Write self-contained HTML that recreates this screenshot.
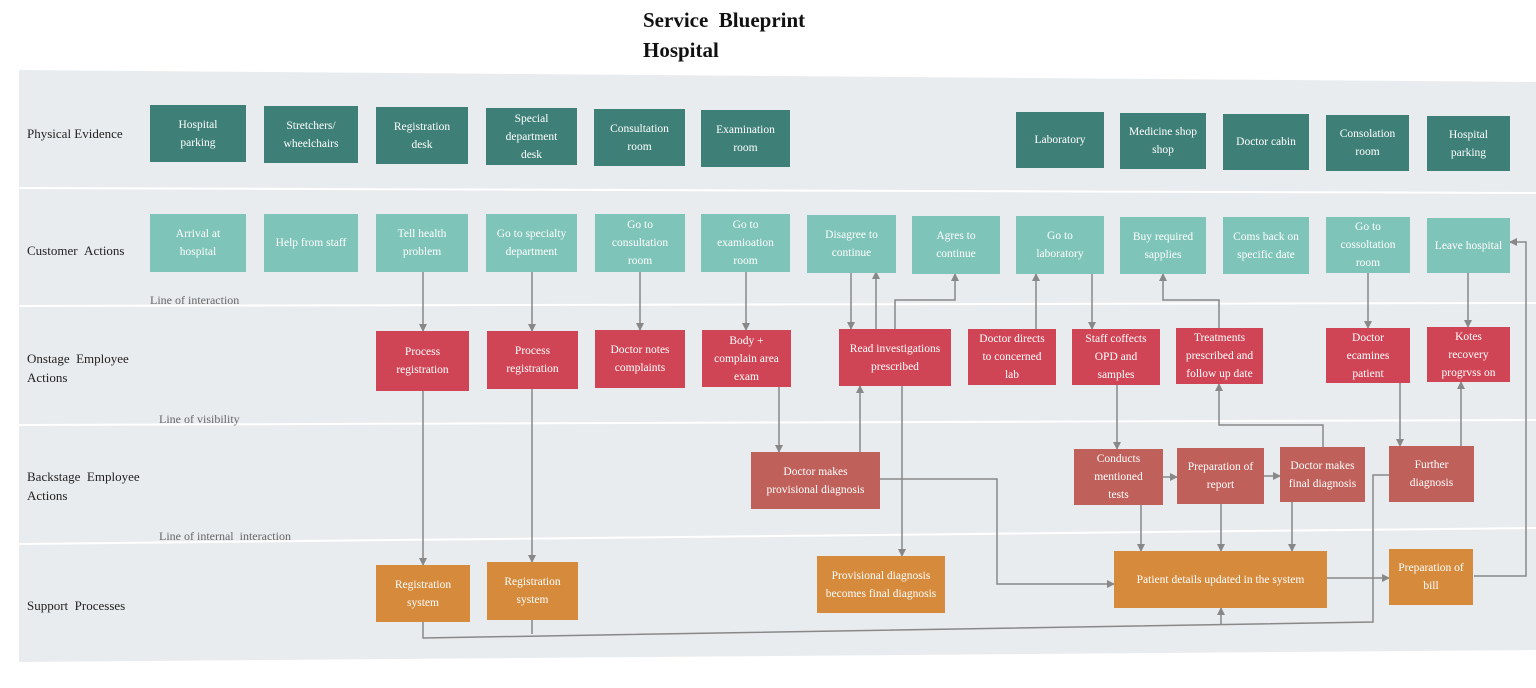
<!DOCTYPE html>
<html><head><meta charset="utf-8"><style>
body{margin:0;width:1536px;height:688px;background:#fff;position:relative;overflow:hidden;font-family:"Liberation Serif",serif}
.t{position:absolute;font-weight:bold;font-size:21px;color:#111;left:643px}
.lab{position:absolute;font-size:13px;color:#222;left:27px;line-height:19px}
.ln{position:absolute;font-size:12px;color:#666}
.b{position:absolute;display:flex;align-items:center;justify-content:center;text-align:center;color:#fff;font-size:11.5px;line-height:18px;box-sizing:border-box;padding:2px}
.pe{background:#3e8077}.ca{background:#7ec4b8}.on{background:#d04555}.bs{background:#c0605a}.sp{background:#d68a3c}
svg{position:absolute;left:0;top:0}
</style></head><body>
<svg width="1536" height="688">
<defs><marker id="a" markerWidth="8" markerHeight="8" refX="7" refY="4" orient="auto" markerUnits="userSpaceOnUse"><path d="M0,0L8,4L0,8z" fill="#888"/></marker></defs>
<polygon points="19,70 1536,82 1536,650 19,662" fill="#e9ecef"/>
<g stroke="#fff" stroke-width="2">
<line x1="19" y1="188" x2="1536" y2="193"/><line x1="19" y1="306" x2="1536" y2="303"/>
<line x1="19" y1="425" x2="1536" y2="420"/><line x1="19" y1="544" x2="1536" y2="528"/></g>
<g stroke="#888" stroke-width="1.5" fill="none" marker-end="url(#a)">
<path d="M423,272V331"/><path d="M532,272V331"/><path d="M640,272V330"/><path d="M746,272V330"/>
<path d="M851,272V329"/><path d="M876,329V272"/><path d="M895,329V300H955V274"/>
<path d="M1036,329V274"/><path d="M1092,274V329"/><path d="M1219,328V300H1163V274"/>
<path d="M1368,273V328"/><path d="M1468,273V327"/>
<path d="M423,391V565"/><path d="M532,389V562"/><path d="M779,387V452"/>
<path d="M860,452V386"/><path d="M902,386V556"/>
<path d="M1117,385V449"/><path d="M1163,477H1177"/><path d="M1264,476H1280"/>
<path d="M1323,447V425H1219V384"/><path d="M1400,383V446"/><path d="M1461,446V382"/>
<path d="M880,479H997V584H1114"/>
<path d="M1141,505V551"/><path d="M1221,504V551"/><path d="M1292,502V551"/>
<path d="M1327,578H1389"/><path d="M1474,576H1526V242H1510"/>
<path d="M423,622V638L1373,622V475H1389" marker-end="none"/>
<path d="M532,620V634"  marker-end="none"/>
<path d="M1221,624V608"/>
</g></svg>
<div class="t" style="top:8px">Service &nbsp;Blueprint</div>
<div class="t" style="top:38px">Hospital</div>
<div class="lab" style="top:124px">Physical Evidence</div>
<div class="lab" style="top:241px">Customer &nbsp;Actions</div>
<div class="lab" style="top:349px">Onstage &nbsp;Employee<br>Actions</div>
<div class="lab" style="top:467px">Backstage &nbsp;Employee<br>Actions</div>
<div class="lab" style="top:596px">Support &nbsp;Processes</div>
<div class="ln" style="left:150px;top:293px">Line of interaction</div>
<div class="ln" style="left:159px;top:412px">Line of visibility</div>
<div class="ln" style="left:159px;top:529px">Line of internal &nbsp;interaction</div>

<div class="b pe" style="left:150px;top:105px;width:96px;height:57px">Hospital<br>parking</div>
<div class="b pe" style="left:264px;top:106px;width:94px;height:57px">Stretchers/<br>wheelchairs</div>
<div class="b pe" style="left:376px;top:107px;width:92px;height:57px">Registration<br>desk</div>
<div class="b pe" style="left:486px;top:108px;width:91px;height:57px">Special<br>department<br>desk</div>
<div class="b pe" style="left:594px;top:109px;width:91px;height:57px">Consultation<br>room</div>
<div class="b pe" style="left:701px;top:110px;width:89px;height:57px">Examination<br>room</div>
<div class="b pe" style="left:1016px;top:112px;width:88px;height:56px">Laboratory</div>
<div class="b pe" style="left:1120px;top:113px;width:86px;height:56px">Medicine shop<br>shop</div>
<div class="b pe" style="left:1223px;top:114px;width:86px;height:56px">Doctor cabin</div>
<div class="b pe" style="left:1326px;top:115px;width:83px;height:56px">Consolation<br>room</div>
<div class="b pe" style="left:1427px;top:116px;width:83px;height:55px">Hospital<br>parking</div>

<div class="b ca" style="left:150px;top:214px;width:96px;height:58px">Arrival at<br>hospital</div>
<div class="b ca" style="left:264px;top:214px;width:94px;height:58px">Help from staff</div>
<div class="b ca" style="left:376px;top:214px;width:92px;height:58px">Tell health<br>problem</div>
<div class="b ca" style="left:486px;top:214px;width:91px;height:58px">Go to specialty<br>department</div>
<div class="b ca" style="left:595px;top:214px;width:90px;height:58px">Go to<br>consultation<br>room</div>
<div class="b ca" style="left:701px;top:214px;width:89px;height:58px">Go to<br>examioation<br>room</div>
<div class="b ca" style="left:807px;top:215px;width:89px;height:58px">Disagree to<br>continue</div>
<div class="b ca" style="left:912px;top:216px;width:88px;height:58px">Agres to<br>continue</div>
<div class="b ca" style="left:1016px;top:216px;width:88px;height:58px">Go to<br>laboratory</div>
<div class="b ca" style="left:1120px;top:217px;width:86px;height:57px">Buy required<br>sapplies</div>
<div class="b ca" style="left:1223px;top:217px;width:86px;height:57px">Coms back on<br>specific date</div>
<div class="b ca" style="left:1326px;top:217px;width:84px;height:56px">Go to<br>cossoltation<br>room</div>
<div class="b ca" style="left:1427px;top:218px;width:83px;height:55px">Leave hospital</div>

<div class="b on" style="left:376px;top:331px;width:93px;height:60px">Process<br>registration</div>
<div class="b on" style="left:487px;top:331px;width:91px;height:58px">Process<br>registration</div>
<div class="b on" style="left:595px;top:330px;width:90px;height:58px">Doctor notes<br>complaints</div>
<div class="b on" style="left:702px;top:330px;width:89px;height:57px">Body +<br>complain area<br>exam</div>
<div class="b on" style="left:839px;top:329px;width:112px;height:57px">Read investigations<br>prescribed</div>
<div class="b on" style="left:968px;top:329px;width:88px;height:56px">Doctor directs<br>to concerned<br>lab</div>
<div class="b on" style="left:1072px;top:329px;width:88px;height:56px">Staff coffects<br>OPD and<br>samples</div>
<div class="b on" style="left:1176px;top:328px;width:87px;height:56px">Treatments<br>prescribed and<br>follow up date</div>
<div class="b on" style="left:1326px;top:328px;width:84px;height:55px">Doctor<br>ecamines<br>patient</div>
<div class="b on" style="left:1427px;top:327px;width:83px;height:55px;overflow:hidden">Kotes<br>recovery<br>progrvss on</div>

<div class="b bs" style="left:751px;top:452px;width:129px;height:57px">Doctor makes<br>provisional diagnosis</div>
<div class="b bs" style="left:1074px;top:449px;width:89px;height:56px">Conducts<br>mentioned<br>tests</div>
<div class="b bs" style="left:1177px;top:448px;width:87px;height:56px">Preparation of<br>report</div>
<div class="b bs" style="left:1280px;top:447px;width:85px;height:55px">Doctor makes<br>final diagnosis</div>
<div class="b bs" style="left:1389px;top:446px;width:85px;height:56px">Further<br>diagnosis</div>

<div class="b sp" style="left:376px;top:565px;width:94px;height:57px">Registration<br>system</div>
<div class="b sp" style="left:487px;top:562px;width:91px;height:58px">Registration<br>system</div>
<div class="b sp" style="left:817px;top:556px;width:128px;height:57px">Provisional diagnosis<br>becomes final diagnosis</div>
<div class="b sp" style="left:1114px;top:551px;width:213px;height:57px">Patient details updated in the system</div>
<div class="b sp" style="left:1389px;top:549px;width:84px;height:56px">Preparation of<br>bill</div>
</body></html>
